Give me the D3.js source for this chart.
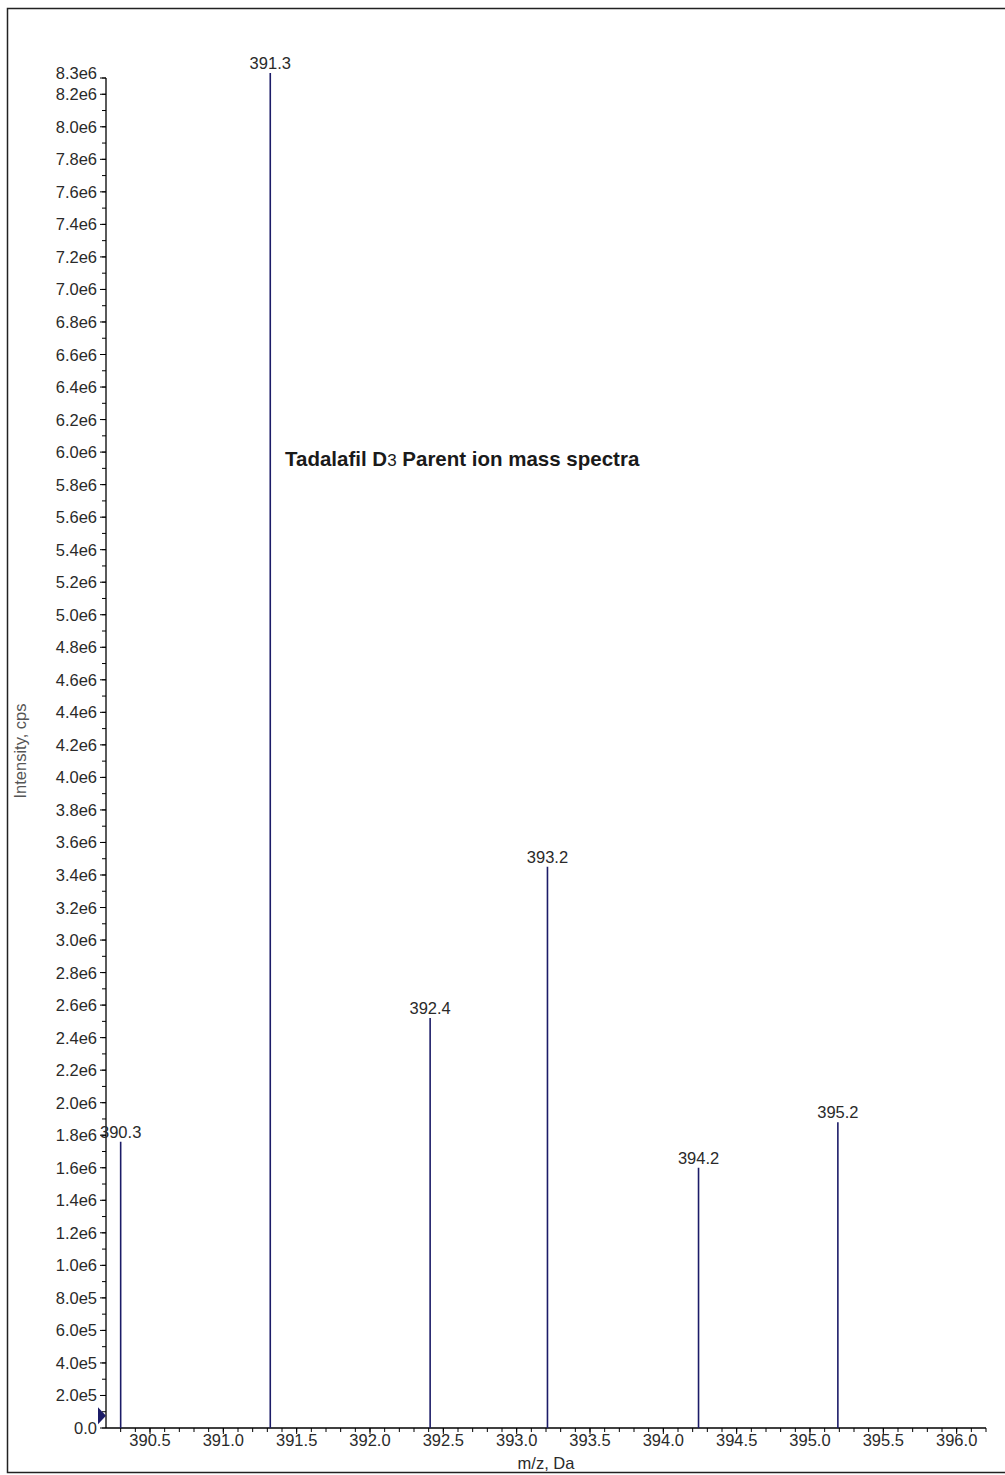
<!DOCTYPE html>
<html><head><meta charset="utf-8">
<script src="https://cdn.jsdelivr.net/npm/d3@7"></script>
<style>body{margin:0;background:#fff;} svg text{font-family:"Liberation Sans",Arial,sans-serif;}</style>
</head><body>
<svg id="c" width="1005" height="1475"></svg>
<script>
const peakMz = [390.30, 391.32, 392.41, 393.21, 394.24, 395.19];
const peakIntensity = [1.76e6, 8.33e6, 2.52e6, 3.45e6, 1.60e6, 1.88e6];
const peakLabels = ["390.3", "391.3", "392.4", "393.2", "394.2", "395.2"];
const xTickLabels = ["390.5","391.0","391.5","392.0","392.5","393.0","393.5","394.0","394.5","395.0","395.5","396.0"];
const yTickLabels = ["0.0","2.0e5","4.0e5","6.0e5","8.0e5","1.0e6","1.2e6","1.4e6","1.6e6","1.8e6","2.0e6","2.2e6","2.4e6","2.6e6","2.8e6","3.0e6","3.2e6","3.4e6","3.6e6","3.8e6","4.0e6","4.2e6","4.4e6","4.6e6","4.8e6","5.0e6","5.2e6","5.4e6","5.6e6","5.8e6","6.0e6","6.2e6","6.4e6","6.6e6","6.8e6","7.0e6","7.2e6","7.4e6","7.6e6","7.8e6","8.0e6","8.2e6","8.3e6"];

(function(){
const svg = d3.select("#c");
const pL = 106, pR = 986, pT = 78, pB = 1428;
const x = d3.scaleLinear().domain([390.2, 396.2]).range([pL, pR]);
const y = d3.scaleLinear().domain([0, 8.3e6]).range([pB, pT]);
const ink = "#2a2a2a", peakColor = "#1c1c68";

// outer frame
svg.append("rect").attr("x",7.5).attr("y",8.5).attr("width",1010).attr("height",1464)
  .attr("fill","none").attr("stroke","#222").attr("stroke-width",1.5);

// y axis
const yMinor = d3.range(0, 84).map(i => i*1e5);
const yG = svg.append("g");
yG.append("line").attr("x1",pL).attr("x2",pL).attr("y1",pT).attr("y2",pB).attr("stroke","#000").attr("stroke-width",1.3);
yG.selectAll(".ym").data(yMinor).enter().append("line")
  .attr("x1",pL-4).attr("x2",pL).attr("y1",d=>y(d)).attr("y2",d=>y(d)).attr("stroke","#000");
const yVals = yTickLabels.map(s => +s);
yG.selectAll(".yM").data(yVals).enter().append("line")
  .attr("x1",pL-6).attr("x2",pL).attr("y1",d=>y(d)).attr("y2",d=>y(d)).attr("stroke","#000");
yG.selectAll(".yl").data(yTickLabels).enter().append("text")
  .attr("x",pL-9).attr("y",(d,i)=>y(yVals[i]) + (yVals[i]===8.3e6 ? 1 : 6))
  .attr("text-anchor","end").attr("font-size",16.5).attr("fill",ink).text(d=>d);

// x axis
const xG = svg.append("g");
xG.append("line").attr("x1",pL).attr("x2",pR).attr("y1",pB).attr("y2",pB).attr("stroke","#000").attr("stroke-width",1.3);
const xMinor = d3.range(1, 61).map(i => 390.2 + i*0.1);
xG.selectAll(".xm").data(xMinor).enter().append("line")
  .attr("x1",d=>x(d)).attr("x2",d=>x(d)).attr("y1",pB).attr("y2",pB+4).attr("stroke","#000");
const xVals = xTickLabels.map(s => +s);
xG.selectAll(".xM").data(xVals).enter().append("line")
  .attr("x1",d=>x(d)).attr("x2",d=>x(d)).attr("y1",pB).attr("y2",pB+6).attr("stroke","#000");
xG.selectAll(".xl").data(xTickLabels).enter().append("text")
  .attr("x",(d,i)=>x(xVals[i])).attr("y",pB+18)
  .attr("text-anchor","middle").attr("font-size",16.5).attr("fill",ink).text(d=>d);

// peaks
const peaks = peakMz.map((m,i)=>({m, v:peakIntensity[i], l:peakLabels[i]}));
svg.selectAll(".pk").data(peaks).enter().append("line")
  .attr("x1",d=>x(d.m)).attr("x2",d=>x(d.m)).attr("y1",y(0)).attr("y2",d=>y(d.v))
  .attr("stroke",peakColor).attr("stroke-width",1.6);
svg.selectAll(".pl").data(peaks).enter().append("text")
  .attr("x",d=>x(d.m)).attr("y",d=>y(d.v)-4).attr("text-anchor","middle")
  .attr("font-size",16.5).attr("fill",ink).text(d=>d.l);

// marker triangle
const ty = y(7.5e4);
svg.append("path").attr("d",`M${pL-8},${ty-8.5} L${pL},${ty} L${pL-8},${ty+8.5} Z`).attr("fill",peakColor);

// title
const t = svg.append("text").attr("x",285).attr("y",466).attr("font-size",20.5).attr("font-weight","bold").attr("fill","#1a1a1a");
t.append("tspan").text("Tadalafil D");
t.append("tspan").attr("font-size",17).attr("font-weight","normal").text("3");
t.append("tspan").text(" Parent ion mass spectra");

// axis titles
svg.append("text").attr("transform","translate(26,751) rotate(-90)").attr("text-anchor","middle")
  .attr("font-size",16.5).attr("fill","#555").text("Intensity, cps");
svg.append("text").attr("x",546).attr("y",1469).attr("text-anchor","middle")
  .attr("font-size",16.5).attr("fill",ink).text("m/z, Da");
})();
</script>
</body></html>
